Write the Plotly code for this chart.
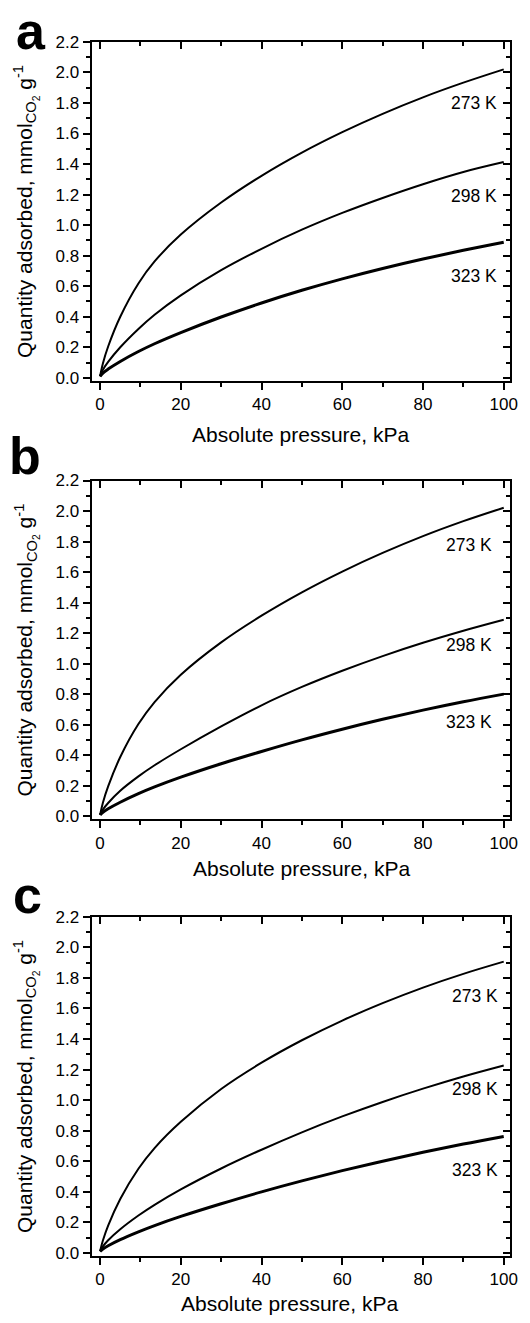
import plotly.graph_objects as go

W, H = 530, 1323

# Absolute pressure grid, kPa
pressure = [0, 0.7, 2, 5, 9.5, 13.5, 20, 30, 40, 50, 60, 70, 80, 90, 100]

# CO2 uptake, mmol/g — panel a
a_273 = [0.01, 0.094, 0.205, 0.40, 0.618, 0.762, 0.938, 1.148, 1.323, 1.475, 1.609, 1.729, 1.837, 1.933, 2.02]
a_298 = [0.01, 0.052, 0.104, 0.20, 0.32, 0.413, 0.54, 0.705, 0.845, 0.97, 1.08, 1.178, 1.268, 1.348, 1.413]
a_323 = [0.01, 0.031, 0.057, 0.107, 0.172, 0.223, 0.296, 0.398, 0.49, 0.573, 0.648, 0.716, 0.778, 0.835, 0.888]

# panel b
b_273 = [0.01, 0.09, 0.197, 0.389, 0.605, 0.749, 0.928, 1.14, 1.315, 1.468, 1.604, 1.726, 1.836, 1.934, 2.022]
b_298 = [0.01, 0.045, 0.088, 0.168, 0.262, 0.335, 0.44, 0.59, 0.728, 0.848, 0.954, 1.05, 1.137, 1.216, 1.288]
b_323 = [0.01, 0.0275, 0.05, 0.093, 0.149, 0.193, 0.257, 0.345, 0.425, 0.501, 0.571, 0.636, 0.696, 0.751, 0.801]

# panel c
c_273 = [0.01, 0.08, 0.178, 0.352, 0.55, 0.686, 0.858, 1.073, 1.245, 1.392, 1.521, 1.635, 1.737, 1.827, 1.907]
c_298 = [0.01, 0.0415, 0.082, 0.154, 0.244, 0.314, 0.415, 0.552, 0.675, 0.789, 0.893, 0.988, 1.075, 1.155, 1.227]
c_323 = [0.01, 0.025, 0.046, 0.086, 0.137, 0.178, 0.238, 0.321, 0.399, 0.471, 0.538, 0.60, 0.658, 0.712, 0.762]

temps = ["273 K", "298 K", "323 K"]
line_widths = [2, 2, 3]
panel_letters = ["a", "b", "c"]
panel_series = [[a_273, a_298, a_323], [b_273, b_298, b_323], [c_273, c_298, c_323]]

# label anchor positions (pressure, uptake) per panel
label_x = [98.8, 97.6, 99.2]
label_y = [[1.80, 1.19, 0.667], [1.78, 1.126, 0.62], [1.68, 1.07, 0.54]]

x_ticks = [0, 20, 40, 60, 80, 100]
x_minor = [10, 30, 50, 70, 90]
y_ticks = [round(0.2 * i, 1) for i in range(12)]
y_minor = [round(0.1 + 0.2 * k, 1) for k in range(11)]

# frame geometry in pixels
frame_left, frame_right = 93, 518
frame_rows = [(33.3, 376.4), (477.3, 820.4), (919.0, 1262.1)]
xtitle_pos = [(305, 431), (306, 870), (294, 1310)]
letter_pos = [(14, 22), (7.5, 452), (11, 897)]

FONT = "Liberation Sans, Arial, sans-serif"
TICK_SIZE = 17
LABEL_SIZE = 17.5
TITLE_SIZE = 21
YTITLE_SIZE = 21
x_range = [-2.1, 101.6]
y_range = [-0.02, 2.2]


def fx(px):
    return px / W


def fy(py):
    return 1 - py / H


fig = go.Figure()
layout = dict(
    width=W, height=H, margin=dict(l=0, r=0, t=0, b=0),
    paper_bgcolor="white", plot_bgcolor="white", showlegend=False,
    font=dict(family=FONT, color="black"),
)
annotations = []

for i in range(3):
    n = i + 1
    xa = "x" if n == 1 else f"x{n}"
    ya = "y" if n == 1 else f"y{n}"
    xo, yo = f"x{n + 3}", f"y{n + 3}"
    top, bottom = frame_rows[i]

    for s, vals in enumerate(panel_series[i]):
        fig.add_trace(go.Scatter(
            x=pressure, y=vals, mode="lines", xaxis=xa, yaxis=ya,
            line=dict(color="black", width=line_widths[s], shape="spline", smoothing=1.0),
            hoverinfo="skip", name=temps[s]))
    # empty traces that carry the mirrored top / right axes
    fig.add_trace(go.Scatter(x=[], y=[], xaxis=xo, yaxis=ya, hoverinfo="skip"))
    fig.add_trace(go.Scatter(x=[], y=[], xaxis=xa, yaxis=yo, hoverinfo="skip"))

    axis_common = dict(showgrid=False, zeroline=False, showline=True, linecolor="black",
                       linewidth=2, tickcolor="black", tickwidth=2, ticklen=7)
    layout["xaxis" if n == 1 else f"xaxis{n}"] = dict(
        domain=[fx(frame_left), fx(frame_right)], anchor=ya, range=x_range,
        tickvals=x_ticks, ticks="outside", tickfont=dict(size=TICK_SIZE),
        minor=dict(tickvals=x_minor, ticks="outside", ticklen=4, tickwidth=2, tickcolor="black"),
        **axis_common)
    layout["yaxis" if n == 1 else f"yaxis{n}"] = dict(
        domain=[fy(bottom), fy(top)], anchor=xa, range=y_range,
        tickvals=y_ticks, tickformat=".1f", ticks="outside", tickfont=dict(size=TICK_SIZE),
        minor=dict(tickvals=y_minor, ticks="outside", ticklen=4, tickwidth=2, tickcolor="black"),
        **axis_common)
    # top and right frame edges with inward ticks
    layout[f"xaxis{n + 3}"] = dict(
        overlaying=xa, anchor=ya, side="top", range=x_range,
        tickvals=x_ticks, ticks="inside", showticklabels=False,
        minor=dict(tickvals=x_minor, ticks="inside", ticklen=4, tickwidth=2, tickcolor="black"),
        **axis_common)
    layout[f"yaxis{n + 3}"] = dict(
        overlaying=ya, anchor=xa, side="right", range=y_range,
        tickvals=y_ticks, ticks="inside", showticklabels=False,
        minor=dict(tickvals=y_minor, ticks="inside", ticklen=4, tickwidth=2, tickcolor="black"),
        **axis_common)

    # temperature labels
    for s, t in enumerate(temps):
        annotations.append(dict(
            x=label_x[i], y=label_y[i][s], xref=xa, yref=ya, text=t, showarrow=False,
            xanchor="right", yanchor="middle", font=dict(size=LABEL_SIZE)))

    # axis titles
    annotations.append(dict(
        x=fx(26), y=fy((top + bottom) / 2), xref="paper", yref="paper", textangle=-90,
        text="Quantity adsorbed, mmol<sub>CO<sub>2</sub></sub> g<sup>-1</sup>",
        showarrow=False, xanchor="center", yanchor="middle", font=dict(size=YTITLE_SIZE)))
    tx, ty = xtitle_pos[i]
    annotations.append(dict(
        x=fx(tx), y=fy(ty), xref="paper", yref="paper", text="Absolute pressure, kPa",
        showarrow=False, xanchor="center", yanchor="middle", font=dict(size=TITLE_SIZE)))

    # panel letter
    lx, ly = letter_pos[i]
    annotations.append(dict(
        x=fx(lx), y=fy(ly), xref="paper", yref="paper", text=f"<b>{panel_letters[i]}</b>",
        showarrow=False, xanchor="left", yanchor="middle", font=dict(size=52)))

layout["annotations"] = annotations
fig.update_layout(**layout)
fig.write_html("out.html")
